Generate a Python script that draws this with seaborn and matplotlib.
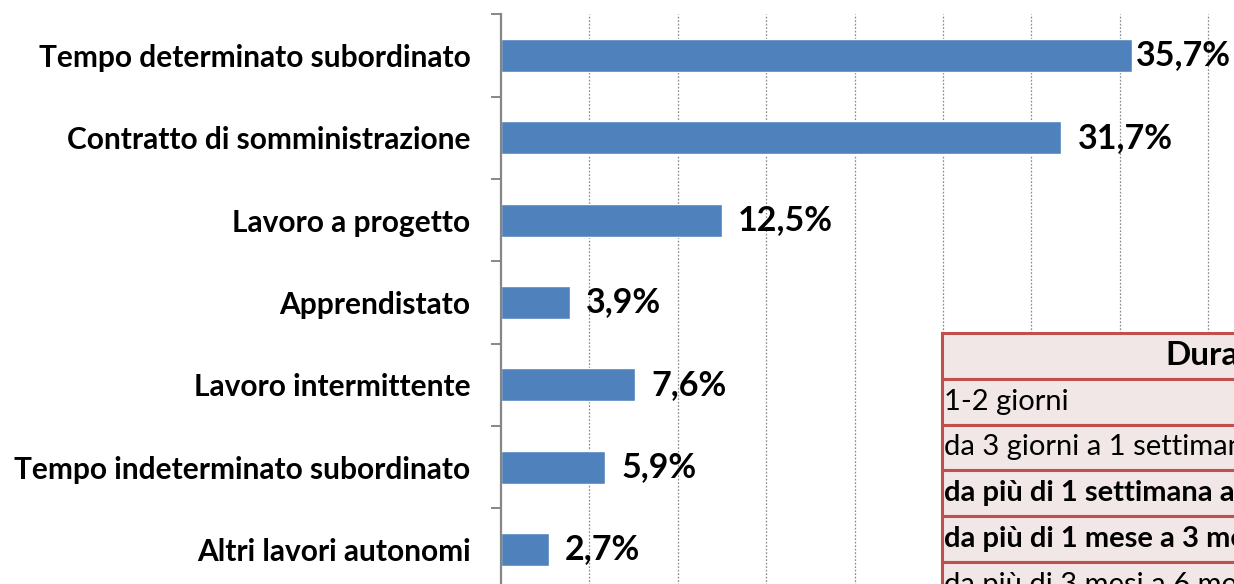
import numpy as np
import pandas as pd
import matplotlib.pyplot as plt
import seaborn as sns

# dati
categorie = ['Tempo determinato subordinato', 'Contratto di somministrazione',
             'Lavoro a progetto', 'Apprendistato', 'Lavoro intermittente',
             'Tempo indeterminato subordinato', 'Altri lavori autonomi']
percentuali = [35.7, 31.7, 12.5, 3.9, 7.6, 5.9, 2.7]
etichette = ['35,7%', '31,7%', '12,5%', '3,9%', '7,6%', '5,9%', '2,7%']

titolo_tabella = 'Durata'
durate = ['1-2 giorni', 'da 3 giorni a 1 settimana', 'da più di 1 settimana a 1 mese',
          'da più di 1 mese a 3 mesi', 'da più di 3 mesi a 6 mesi']

sns.set_theme(style='white')
plt.rcParams['font.family'] = ['Lato', 'DejaVu Sans']
plt.rcParams['text.color'] = 'black'

W, H = 1234, 584
fig = plt.figure(figsize=(W / 100, H / 100), dpi=100)

# posizione assi in pixel (l'originale e' tagliato a destra e in basso)
px = 17.68
x0, x1 = 501, 501 + 45 * px
y_top, y_bot = 14.3, 14.3 + 7 * 82.33
ax = fig.add_axes([x0 / W, 1 - y_bot / H, (x1 - x0) / W, (y_bot - y_top) / H])

df = pd.DataFrame({'tipo': categorie, 'quota': percentuali})
sns.barplot(data=df, y='tipo', x='quota', color='#4f81bd', saturation=1,
            width=0.4, orient='h', ax=ax)
ax.set_xlim(0, 45)
ax.set_ylim(6.5, -0.5)
ax.set_xlabel('')
ax.set_ylabel('')

for s in ['top', 'right', 'bottom']:
    ax.spines[s].set_visible(False)
ax.spines['left'].set_color('#868686')
ax.spines['left'].set_linewidth(1.6)

ax.set_xticks(np.arange(5, 45, 5))
ax.tick_params(axis='x', length=0, labelbottom=False)
ax.xaxis.grid(True, linestyle=(0, (1.4, 1.4)), color='#8c8c8c', linewidth=0.9)
ax.set_axisbelow(True)

ax.set_yticks(np.arange(-0.5, 7, 1), minor=True)
ax.tick_params(axis='y', which='minor', length=7.5, width=1.4, color='#868686', left=True)
ax.tick_params(axis='y', which='major', length=0, pad=22)
for t in ax.get_yticklabels():
    t.set_fontsize(21.5)
    t.set_fontweight('bold')
    t.set_color('black')

for i, (v, t) in enumerate(zip(percentuali, etichette)):
    pad = 3 if v == max(percentuali) else 11.5
    ax.annotate(t, (v, i), xytext=(pad, 0), textcoords='offset points',
                va='center', ha='left', fontsize=24.5, fontweight='bold', color='black')

# tabella sovrapposta (tagliata dal bordo)
tx0, tx1 = 942, 1492
ty_top = 333
rh = 45.8
nrow = len(durate) + 1
tab_ax = fig.add_axes([tx0 / W, 1 - (ty_top + nrow * rh) / H, (tx1 - tx0) / W, nrow * rh / H])
tab_ax.axis('off')
tab = tab_ax.table(cellText=[[d] for d in durate], colLabels=[titolo_tabella],
                   cellLoc='left', bbox=[0, 0, 1, 1])
tab.auto_set_font_size(False)
for (r, c), cell in tab.get_celld().items():
    cell.set_edgecolor('#c0504d')
    cell.set_linewidth(2.2)
    cell.set_facecolor('#f2e7e7')
    cell.PAD = 0.004
    txt = cell.get_text()
    txt.set_color('black')
    if r == 0:
        txt.set_fontsize(24)
        txt.set_fontweight('bold')
        txt.set_horizontalalignment('center')
        txt.set_x(0.5)
        cell._loc = 'center'
    else:
        txt.set_fontsize(21)
        if r in (3, 4):
            txt.set_fontweight('bold')

fig.savefig('out.png', dpi=100)
